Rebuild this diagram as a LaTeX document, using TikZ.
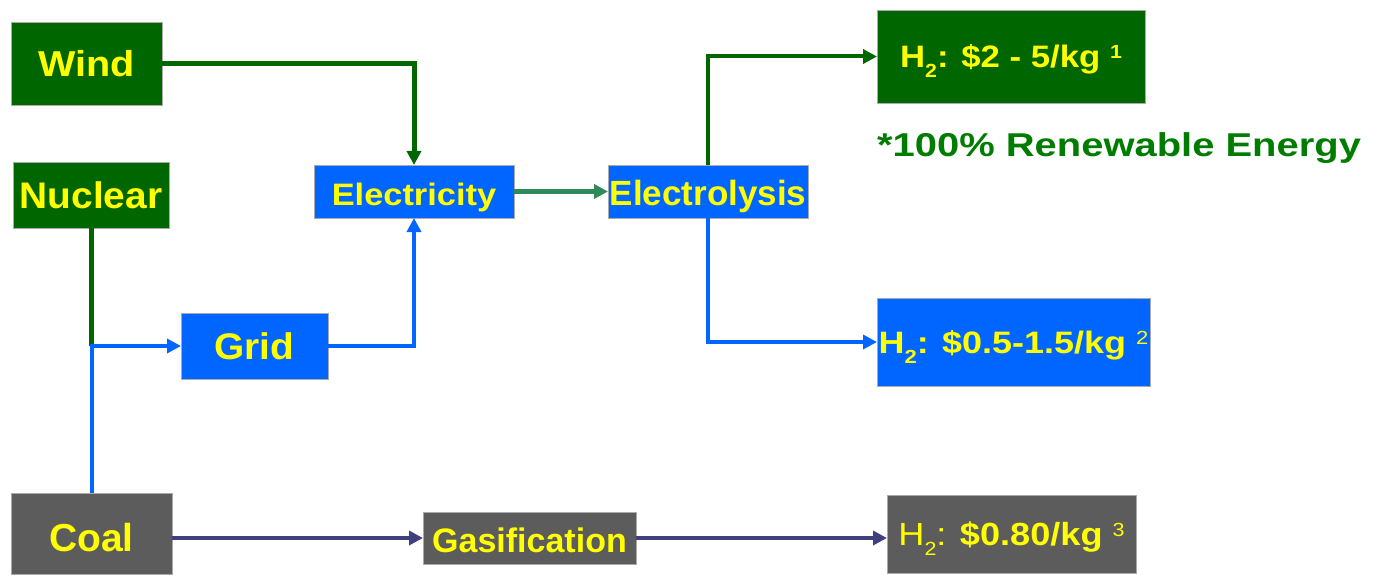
\documentclass[tikz,border=0pt]{standalone}
\usepackage{fontspec}
\setmainfont{Liberation Sans}
\usetikzlibrary{arrows.meta}
\definecolor{dgreen}{RGB}{0,102,0}
\definecolor{blu}{RGB}{0,102,255}
\definecolor{gry}{RGB}{92,92,92}
\definecolor{yel}{RGB}{255,255,0}
\definecolor{tealarrow}{RGB}{46,139,87}
\definecolor{coalc}{RGB}{64,64,128}
\definecolor{notegreen}{RGB}{0,125,0}
\definecolor{boxedge}{RGB}{170,170,170}
\newcommand{\fsz}[1]{\fontsize{#1}{#1}\selectfont}
\newcommand{\hx}[2]{\scalebox{#1}[1]{#2}}
\newcommand{\hsub}[1]{\raisebox{-10pt}{\fsz{19}#1}}
\newcommand{\hsup}[1]{\raisebox{9pt}{\fsz{19}#1}}
\begin{document}
\begin{tikzpicture}[x=1pt,y=-1pt,
  box/.style={inner sep=0pt, outer sep=0pt, text=yel, font=\bfseries, draw=boxedge, line width=0.6pt, text depth=0pt},
  tip/.style={-{Triangle[length=14pt,width=14pt]}}]
\fill[white] (0,0) rectangle (1374,575);
\useasboundingbox (0,0) rectangle (1374,575);

% boxes
\node[box, fill=dgreen, minimum width=151pt, minimum height=83pt, text height=25.8pt] (wind) at (86.5,63.5) {\fsz{36}\hx{1.1}{Wind}};
\node[box, fill=dgreen, minimum width=156pt, minimum height=66pt, text height=26.5pt] (nuc) at (91,195) {\fsz{37}\hx{1.05}{Nuclear}};
\node[box, fill=blu, minimum width=200pt, minimum height=53pt, text height=27pt] (elec) at (414,191.5) {\fsz{31}\hx{1.11}{Electricity}};
\node[box, fill=blu, minimum width=200pt, minimum height=53pt, text height=27pt] (elys) at (708,191.5) {\fsz{35}Electrolysis};
\node[box, fill=blu, minimum width=147pt, minimum height=66pt, text height=26.5pt] (grid) at (254.5,346) {\fsz{37}\hx{1.05}{Grid}};
\node[box, fill=gry, minimum width=161pt, minimum height=81pt, text height=36pt] (coal) at (91.5,533.5) {\fsz{39}Coal};
\node[box, fill=gry, minimum width=213pt, minimum height=52pt, text height=28pt] (gas) at (529.5,538) {\fsz{34}Gasification};
\node[box, fill=dgreen, minimum width=268pt, minimum height=93pt, text height=22pt] (h2a) at (1011,56.5) {\fsz{31}\hx{1.12}{H\hsub{2}: \$2 - 5/kg \hsup{1}}};
\node[box, fill=blu, minimum width=273pt, minimum height=88pt, text height=22pt] (h2b) at (1013.5,342) {\fsz{31}\hx{1.16}{H\hsub{2}: \$0.5-1.5/kg \hsup{\mdseries 2}}};
\node[box, fill=gry, minimum width=249pt, minimum height=78pt, text height=23pt] (h2c) at (1011.5,534) {\fsz{32}\hx{1.13}{\mdseries H\hsub{2}: {\bfseries\$0.80/kg} \hsup{3}}};

\node[anchor=base west, inner sep=0pt, text=notegreen, font=\bfseries\fsz{33}] (note) at (877,157) {\hx{1.21}{*100\% Renewable Energy}};

% connectors
\draw[dgreen, line width=5pt, tip] (wind.east) -| (elec.north);
\draw[dgreen, line width=5pt] (nuc.south) -- (nuc.south |- grid.west);
\draw[blu, line width=4pt, tip] (coal.north) |- (grid.west);
\draw[blu, line width=4.5pt, tip] (grid.east) -| (elec.south);
\draw[tealarrow, line width=4.5pt, tip] (elec.east) -- (elys.west);
\draw[dgreen, line width=4pt, tip] (elys.north) |- (h2a.west);
\draw[blu, line width=3.5pt, tip] (elys.south) |- (h2b.west);
\draw[coalc, line width=3.5pt, tip] (coal.east |- gas.west) -- (gas.west);
\draw[coalc, line width=3.5pt, tip] (gas.east) -- (h2c.west |- gas.east);
\end{tikzpicture}
\end{document}
